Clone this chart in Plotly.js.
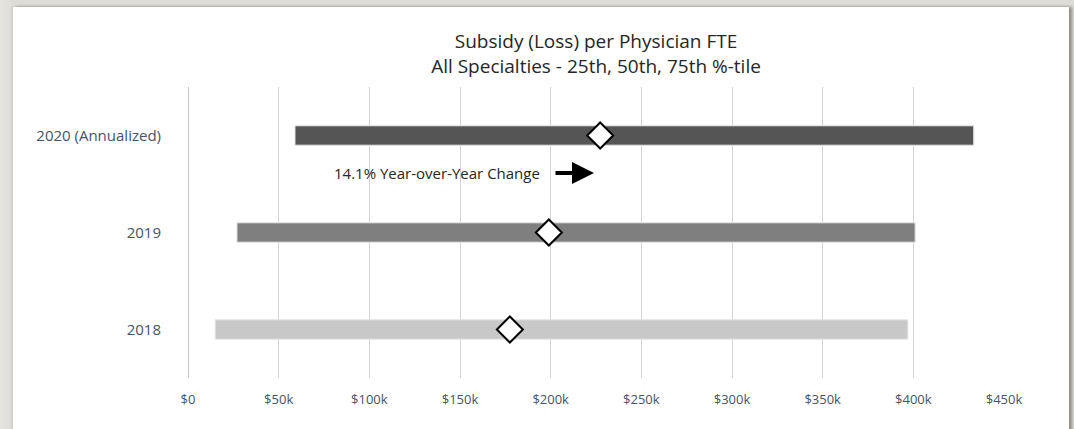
<!DOCTYPE html>
<html>
<head>
<meta charset="utf-8">
<script src="https://cdn.plot.ly/plotly-3.0.1.min.js"></script>
<style>
  html, body { margin: 0; padding: 0; width: 1074px; height: 429px; overflow: hidden;
    background: linear-gradient(to right, #e6e5e0 0px, #dedcd6 13px); }
  #card { position: absolute; left: 13px; top: 7px; width: 1056px; height: 430px; background: #ffffff;
    box-shadow: 3px 0 3px rgba(90,88,80,0.6), -1px 0 2px rgba(150,148,140,0.3); }
  #chart { width: 1056px; height: 422px; }
</style>
</head>
<body>
<div id="card"><div id="chart"></div></div>
<script>
// Data
const categories = ['2018', '2019', '2020 (Annualized)'];
const p25 = [15000, 27000, 59000];
const p50 = [177500, 199000, 227300];
const p75 = [397000, 401000, 433300];
const barColors = ['#c8c8c8', '#7f7f7f', '#555555'];
const tickVals = [0, 50000, 100000, 150000, 200000, 250000, 300000, 350000, 400000, 450000];
const tickText = ['$0', '$50k', '$100k', '$150k', '$200k', '$250k', '$300k', '$350k', '$400k', '$450k'];
const changeLabel = '14.1% Year-over-Year Change';

const spans = p75.map((v, i) => v - p25[i]);

const barTrace = {
  type: 'bar',
  orientation: 'h',
  y: categories,
  x: spans,
  base: p25,
  width: 0.2,
  marker: { color: barColors, line: { color: '#e6e6e6', width: 1 } },
  hoverinfo: 'skip',
  showlegend: false
};

const medianTrace = {
  type: 'scatter',
  mode: 'markers',
  y: categories,
  x: p50,
  marker: { symbol: 'diamond', size: 20, color: '#ffffff', line: { color: '#000000', width: 2 } },
  hoverinfo: 'skip',
  showlegend: false,
  cliponaxis: false
};

const font = "'Open Sans', 'Noto Sans', sans-serif";

const layout = {
  width: 1056,
  height: 422,
  margin: { l: 175, r: 65, t: 80, b: 51 },
  paper_bgcolor: 'rgba(0,0,0,0)',
  plot_bgcolor: 'rgba(0,0,0,0)',
  font: { family: font, color: '#262626' },
  title: {
    text: 'Subsidy (Loss) per Physician FTE<br>All Specialties - 25th, 50th, 75th %-tile',
    font: { family: font, size: 19, color: '#262626' },
    x: 0.5, xref: 'paper', xanchor: 'center',
    y: 1 - 41 / 422, yref: 'container', yanchor: 'top'
  },
  xaxis: {
    range: [0, 450000],
    tickvals: tickVals,
    ticktext: tickText,
    showgrid: true,
    gridcolor: '#d4d4d4',
    gridwidth: 1,
    zeroline: true,
    zerolinecolor: '#c8c8c8',
    zerolinewidth: 1,
    showline: false,
    ticks: '',
    ticklabelstandoff: 12,
    tickfont: { family: font, size: 13, color: '#44546a' },
    fixedrange: true
  },
  yaxis: {
    type: 'category',
    categoryorder: 'array',
    categoryarray: categories,
    range: [-0.5, 2.5],
    showgrid: false,
    zeroline: false,
    showline: false,
    ticks: '',
    ticklabelstandoff: 26,
    tickfont: { family: font, size: 15, color: '#44546a' },
    fixedrange: true
  },
  annotations: [
    {
      xref: 'paper', yref: 'paper',
      x: (437 - 188) / 816, y: (378 - 173) / 291,
      text: changeLabel,
      showarrow: false,
      xanchor: 'center', yanchor: 'middle',
      font: { family: font, size: 15, color: '#262626' }
    },
    {
      xref: 'paper', yref: 'paper',
      x: (594 - 188) / 816, y: (378 - 173) / 291,
      text: '',
      showarrow: true,
      ax: -40, ay: 0,
      arrowhead: 2,
      arrowsize: 1.1,
      arrowwidth: 4,
      arrowcolor: '#000000'
    }
  ]
};

Plotly.newPlot('chart', [barTrace, medianTrace], layout, { staticPlot: true, displayModeBar: false });
</script>
</body>
</html>
